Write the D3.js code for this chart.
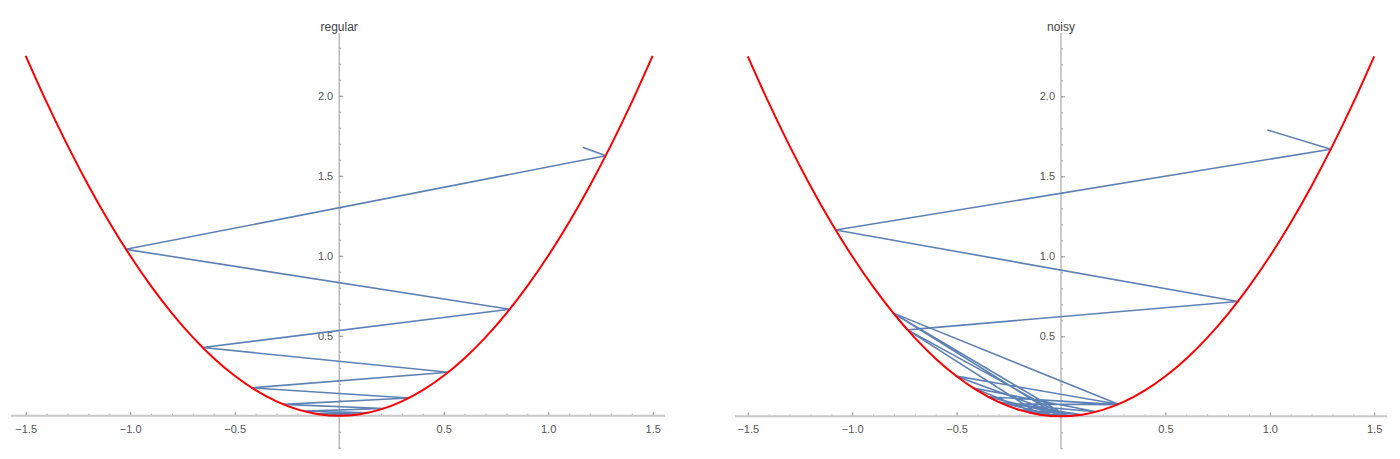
<!DOCTYPE html>
<html>
<head>
<meta charset="utf-8">
<script src="https://cdn.jsdelivr.net/npm/d3@7"></script>
<style>
  html, body { margin: 0; padding: 0; background: #fff; }
  svg { display: block; }
  text { font-family: "Liberation Sans", Arial, sans-serif; }
</style>
</head>
<body>
<svg id="chart" width="1400" height="459"></svg>
<script>
// ---- data ----
const panelTitles = ["regular", "noisy"];

// parabola y = x^2 sampled points
const parabolaX = [-1.5,-1.4,-1.3,-1.2,-1.1,-1.0,-0.9,-0.8,-0.7,-0.6,-0.5,-0.4,-0.3,-0.2,-0.1,0,
                   0.1,0.2,0.3,0.4,0.5,0.6,0.7,0.8,0.9,1.0,1.1,1.2,1.3,1.4,1.5];
const parabolaY = [2.25,1.96,1.69,1.44,1.21,1.0,0.81,0.64,0.49,0.36,0.25,0.16,0.09,0.04,0.01,0,
                   0.01,0.04,0.09,0.16,0.25,0.36,0.49,0.64,0.81,1.0,1.21,1.44,1.69,1.96,2.25];

// "regular" descent path
const regularX = [1.165, 1.275, -1.020, 0.816, -0.653, 0.522, -0.418, 0.334, -0.267, 0.214,
                  -0.171, 0.137, -0.109, 0.0875, -0.070, 0.056, -0.045, 0.036, -0.029, 0.023,
                  -0.018, 0.015, -0.012, 0.009];
const regularY = [1.678, 1.6256, 1.0404, 0.6659, 0.4264, 0.2725, 0.1747, 0.1116, 0.0713, 0.0458,
                  0.0292, 0.0188, 0.0119, 0.0077, 0.0049, 0.0031, 0.0020, 0.0013, 0.0008, 0.0005,
                  0.0003, 0.0002, 0.0001, 0.0001];

// "noisy" descent path
const noisyX = [0.988, 1.292, -1.079, 0.847, -0.735, -0.803, 0.275, -0.501, 0.020, -0.735,
                -0.100, -0.420, 0.170, -0.280, 0.270, -0.350, 0.030, -0.803, -0.010, -0.300,
                0.100, -0.200, -0.020, -0.150, 0.050, -0.120, 0.0, -0.080, 0.010];
const noisyY = [1.790, 1.6693, 1.1642, 0.7174, 0.5402, 0.6448, 0.0756, 0.2510, 0.0004, 0.5402,
                0.0100, 0.1764, 0.0289, 0.0784, 0.0729, 0.1225, 0.0009, 0.6448, 0.0001, 0.0900,
                0.0100, 0.0400, 0.0004, 0.0225, 0.0025, 0.0144, 0.0, 0.0064, 0.0001];

const xMajorTicks = [-1.5, -1.0, -0.5, 0.5, 1.0, 1.5];
const xTickLabels = ["\u22121.5", "\u22121.0", "\u22120.5", "0.5", "1.0", "1.5"];
const yMajorTicks = [0.5, 1.0, 1.5, 2.0];
const yTickLabels = ["0.5", "1.0", "1.5", "2.0"];
const xMinorTicks = [-1.5,-1.4,-1.3,-1.2,-1.1,-1.0,-0.9,-0.8,-0.7,-0.6,-0.5,-0.4,-0.3,-0.2,-0.1,
                     0.1,0.2,0.3,0.4,0.5,0.6,0.7,0.8,0.9,1.0,1.1,1.2,1.3,1.4,1.5];
const yMinorTicks = [-0.2,-0.1,0.1,0.2,0.3,0.4,0.5,0.6,0.7,0.8,0.9,1.0,1.1,1.2,1.3,1.4,1.5,1.6,
                     1.7,1.8,1.9,2.0,2.1,2.2,2.3];

// ---- layout ----
const panels = [
  { title: panelTitles[0], px: regularX, py: regularY,
    xRange: [11, 665], xDomain: [-1.5703, 1.5589], yZero: 415.8 },
  { title: panelTitles[1], px: noisyX, py: noisyY,
    xRange: [735, 1387], xDomain: [-1.5613, 1.5613], yZero: 416.3 }
];

const svg = d3.select("#chart");
const blue = "#5e81b5";
const red = "#ff0000";

panels.forEach(p => {
  const x = d3.scaleLinear().domain(p.xDomain).range(p.xRange);
  const yTop = 33, yBot = 449;
  const y = d3.scaleLinear()
      .domain([(p.yZero - yBot) / 160, (p.yZero - yTop) / 160])
      .range([yBot, yTop]);
  const g = svg.append("g");

  // x axis (minor ticks, major ticks, line)
  const xAxisG = g.append("g").attr("transform", `translate(0,${y(0)})`);
  xAxisG.call(d3.axisBottom(x).tickValues(xMinorTicks).tickSize(-2).tickFormat(""))
    .call(a => a.select(".domain").remove())
    .call(a => a.selectAll("line").attr("stroke", "#aaa"));
  xAxisG.append("g").call(
      d3.axisBottom(x).tickValues(xMajorTicks).tickSize(-4).tickPadding(9)
        .tickFormat((d, i) => xTickLabels[i]))
    .call(a => a.select(".domain").remove())
    .call(a => a.selectAll("line").attr("stroke", "#999"))
    .call(a => a.selectAll("text").attr("fill", "#555").attr("font-size", 11));
  xAxisG.append("line")
    .attr("x1", p.xRange[0]).attr("x2", p.xRange[1])
    .attr("y1", 0).attr("y2", 0)
    .attr("stroke", "#c8c8c8").attr("stroke-width", 2);

  // y axis
  const yAxisG = g.append("g").attr("transform", `translate(${x(0)},0)`);
  yAxisG.call(d3.axisLeft(y).tickValues(yMinorTicks).tickSize(-2).tickFormat(""))
    .call(a => a.select(".domain").remove())
    .call(a => a.selectAll("line").attr("stroke", "#aaa"));
  yAxisG.append("g").call(
      d3.axisLeft(y).tickValues(yMajorTicks).tickSize(-4).tickPadding(6)
        .tickFormat((d, i) => yTickLabels[i]))
    .call(a => a.select(".domain").remove())
    .call(a => a.selectAll("line").attr("stroke", "#999"))
    .call(a => a.selectAll("text").attr("fill", "#555").attr("font-size", 11));
  yAxisG.append("line")
    .attr("x1", 0).attr("x2", 0).attr("y1", yTop).attr("y2", yBot)
    .attr("stroke", "#999").attr("stroke-width", 1);

  // title
  g.append("text")
    .attr("x", x(0)).attr("y", 31)
    .attr("text-anchor", "middle")
    .attr("font-size", 12).attr("fill", "#444")
    .text(p.title);

  // descent path
  const pathData = p.px.map((v, i) => [v, p.py[i]]);
  g.append("path")
    .datum(pathData)
    .attr("fill", "none").attr("stroke", blue).attr("stroke-width", 1.6)
    .attr("stroke-linejoin", "round")
    .attr("d", d3.line().x(d => x(d[0])).y(d => y(d[1])));

  // parabola
  const parData = parabolaX.map((v, i) => [v, parabolaY[i]]);
  g.append("path")
    .datum(parData)
    .attr("fill", "none").attr("stroke", red).attr("stroke-width", 2)
    .attr("d", d3.line().curve(d3.curveNatural).x(d => x(d[0])).y(d => y(d[1])));
});
</script>
</body>
</html>
